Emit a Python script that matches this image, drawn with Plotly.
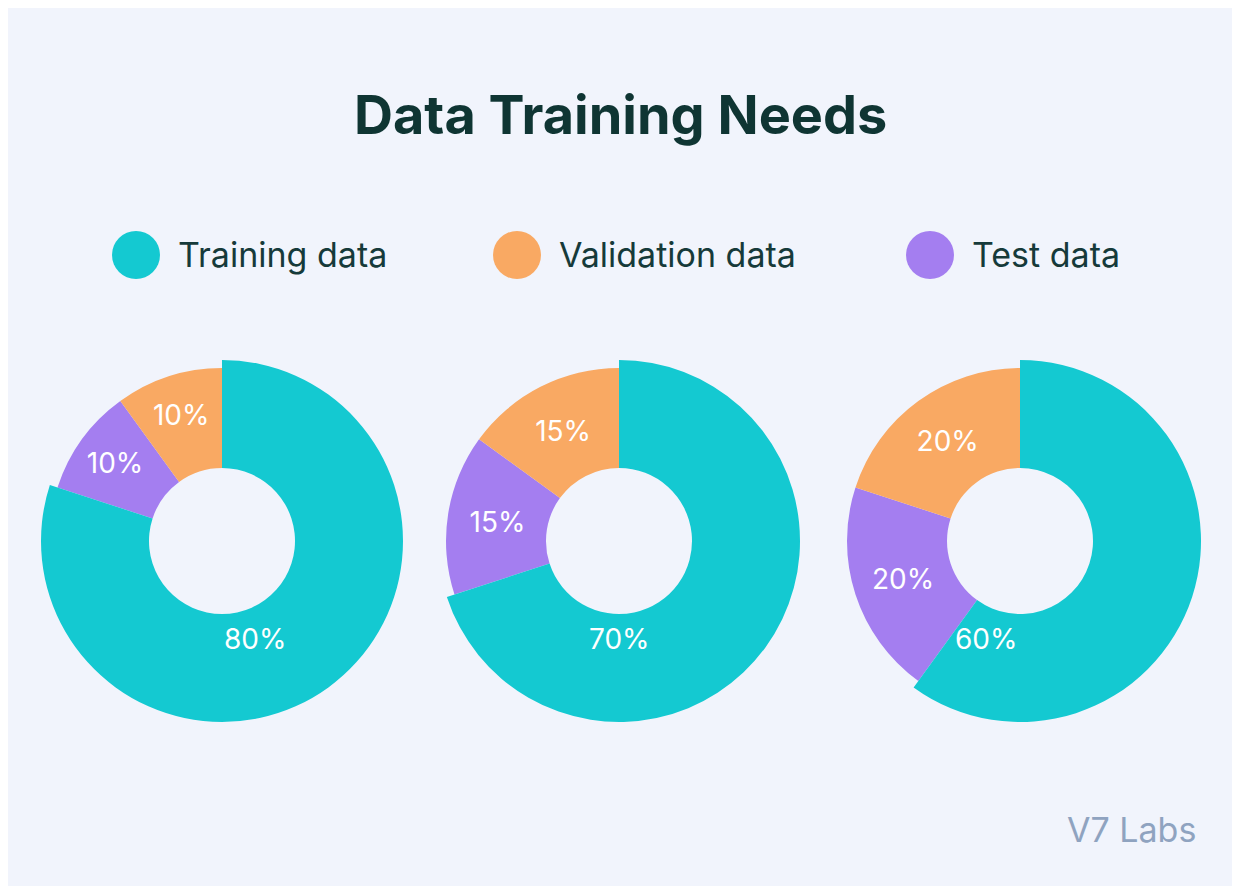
import plotly.graph_objects as go

# slice order clockwise from 12 o'clock
labels = ['Training data', 'Test data', 'Validation data']
colors = ['#14c9d1', '#a47ef0', '#f9a963']
splits = [
    [80, 10, 10],
    [70, 15, 15],
    [60, 20, 20],
]
centers_x = [222, 619, 1020]
legend_names = ['Training data', 'Validation data', 'Test data']
legend_colors = ['#14c9d1', '#f9a963', '#a47ef0']
legend_x = [136, 517, 930]

W, H = 1240, 886
OFF = 8  # page margin around the plot
cy = 541
r_big, r_small, r_hole = 181, 173, 73


def px(x):
    return (x - OFF) / W


def py(y):
    return (H - (y - OFF)) / H


fig = go.Figure()


def dom(cx, r):
    return dict(x=[px(cx - r), px(cx + r)], y=[py(cy + r), py(cy - r)])


annotations = []
for vals, cx in zip(splits, centers_x):
    # the two small slices at normal radius
    fig.add_trace(go.Pie(
        labels=labels, values=vals, sort=False, direction='clockwise', rotation=0,
        hole=r_hole / r_small, domain=dom(cx, r_small),
        marker=dict(colors=['rgba(0,0,0,0)', colors[1], colors[2]], line=dict(width=0)),
        text=['', f'{vals[1]}%', f'{vals[2]}%'], texttemplate='%{text}',
        textposition='inside', insidetextorientation='horizontal',
        textfont=dict(family='Inter', size=28, color='white'),
        showlegend=False, hoverinfo='skip'))
    # training slice slightly larger
    fig.add_trace(go.Pie(
        labels=labels, values=vals, sort=False, direction='clockwise', rotation=0,
        hole=r_hole / r_big, domain=dom(cx, r_big),
        marker=dict(colors=[colors[0], 'rgba(0,0,0,0)', 'rgba(0,0,0,0)'], line=dict(width=0)),
        textinfo='none', showlegend=False, hoverinfo='skip'))
    annotations.append(dict(text=f'{vals[0]}%', xref='paper', yref='paper',
                            x=px(cx), y=py(658), showarrow=False,
                            font=dict(family='Inter', size=28, color='white')))

shapes = []
for name, col, lx in zip(legend_names, legend_colors, legend_x):
    shapes.append(dict(type='circle', xref='paper', yref='paper',
                       x0=px(lx - 24), x1=px(lx + 24),
                       y0=py(255 + 24), y1=py(255 - 24),
                       fillcolor=col, line=dict(width=0)))
    annotations.append(dict(text=name, xref='paper', yref='paper',
                            x=px(lx + 40), y=py(255), xanchor='left', yanchor='middle',
                            showarrow=False, font=dict(family='Inter', size=34, color='#163a3a')))

annotations.append(dict(text='<b>Data Training Needs</b>', xref='paper', yref='paper',
                        x=px(620), y=py(115), xanchor='center', yanchor='middle',
                        showarrow=False, font=dict(family='Inter', size=54, color='#0f3533')))
annotations.append(dict(text='V7 Labs', xref='paper', yref='paper',
                        x=px(1198), y=py(829), xanchor='right', yanchor='middle',
                        showarrow=False, font=dict(family='Inter', size=34, color='#8fa3c0')))

fig.update_layout(width=W, height=H, margin=dict(l=0, r=0, t=0, b=0),
                  paper_bgcolor='#f1f4fc', plot_bgcolor='#f1f4fc',
                  shapes=shapes, annotations=annotations)
fig.write_html('out.html')
